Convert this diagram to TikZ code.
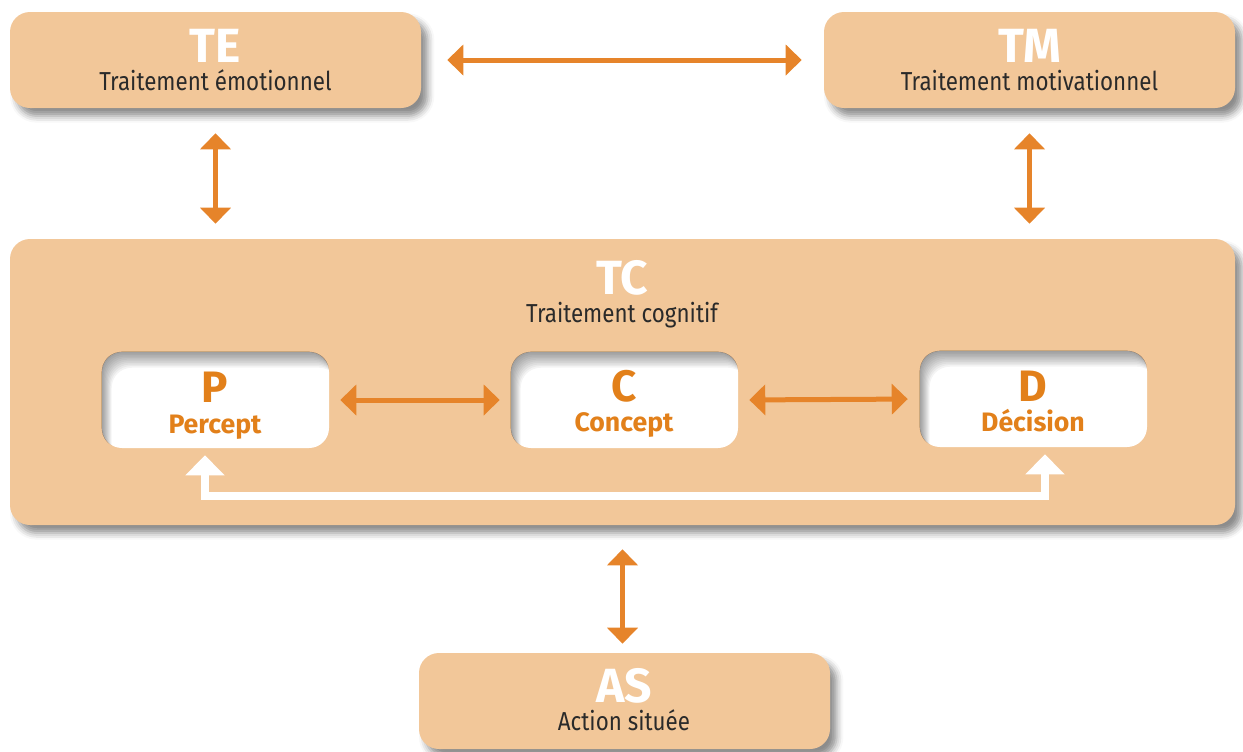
\documentclass[tikz,border=0pt]{standalone}
\usepackage{fontspec}
\setmainfont{Fira Sans}
\newfontfamily\condfont[FakeStretch=0.86]{Fira Sans}
\usetikzlibrary{arrows.meta,shadows.blur}

\definecolor{boxfill}{HTML}{F2C799}
\definecolor{arroworange}{HTML}{E6842A}
\definecolor{labelorange}{HTML}{E2801A}
\definecolor{subtext}{HTML}{2A2A2A}

\tikzset{
  outerbox/.style={fill=boxfill, draw=none, rounded corners=15pt, inner sep=0pt,
    minimum width=308.25pt, minimum height=72pt,
    blur shadow={shadow xshift=5pt, shadow yshift=-6pt, shadow blur radius=5pt, shadow opacity=45}},
  bigbox/.style={outerbox, minimum width=918.75pt, minimum height=214.5pt},
  innerbox/.style={fill=white, draw=none, rounded corners=15pt, inner sep=0pt,
    minimum width=170.25pt, minimum height=72pt},
  biarrow/.style={draw=arroworange, line width=3.75pt,
    {Triangle[width=22.5pt,length=12pt]}-{Triangle[width=22.5pt,length=12pt]}},
  loopar/.style={draw=white, line width=6pt,
    {Triangle[width=28.5pt,length=15pt]}-{Triangle[width=28.5pt,length=15pt]}},
  title/.style={anchor=base, inner sep=0pt, text=white, font=\fontsize{36}{40}\selectfont\bfseries},
  subtitle/.style={anchor=base, inner sep=0pt, text=subtext, font=\condfont\fontsize{19.5}{22}\selectfont},
  ititle/.style={anchor=base, inner sep=0pt, text=labelorange, font=\fontsize{33}{36}\selectfont\bfseries},
  isubtitle/.style={anchor=base, inner sep=0pt, text=labelorange, font=\fontsize{20}{22}\selectfont\bfseries},
}

% soft shadow along the top and left inner edges of a white box
\newcommand{\insetshadow}[1]{%
  \begin{scope}
    \clip[rounded corners=15pt] (#1.south west) rectangle (#1.north east);
    \foreach \i in {1,...,10}
      \fill[black, opacity=0.045, even odd rule]
        ([shift={(-30,-30)}]#1.north west) rectangle ([shift={(30,30)}]#1.south east)
        [rounded corners=15pt]
        ([shift={(\i*1.0,\i*1.6)}]#1.south west) rectangle ([shift={(\i*1.0,\i*1.6)}]#1.north east);
  \end{scope}}

\begin{document}
\begin{tikzpicture}[x=0.75pt, y=-0.75pt]
  \useasboundingbox (0,0) rectangle (1243,751);

  % processing boxes
  \node[outerbox] (TE) at (215.5,60) {};
  \node[outerbox] (TM) at (1029.5,60) {};
  \node[bigbox]   (TC) at (622.5,382) {};
  \node[outerbox] (AS) at (624.5,701) {};

  % stages inside cognitive processing
  \node[innerbox] (P) at (215.5,400) {};
  \node[innerbox] (C) at (624.5,400) {};
  \node[innerbox] (D) at (1033.5,399) {};
  \insetshadow{P}
  \insetshadow{C}
  \insetshadow{D}

  % labels
  \node[title]    (teT) at (215.5,62) {TE};
  \node[subtitle] (teS) at (215.5,90) {Traitement émotionnel};
  \node[title]    (tmT) at (1029.5,62) {TM};
  \node[subtitle] (tmS) at (1029.5,90) {Traitement motivationnel};
  \node[title]    (tcT) at (622,294) {TC};
  \node[subtitle] (tcS) at (622,322) {Traitement cognitif};
  \node[title]    (asT) at (624,702) {AS};
  \node[subtitle] (asS) at (624,730) {Action située};
  \node[ititle]    (pT) at (215,402) {P};
  \node[isubtitle] (pS) at (215,433) {Percept};
  \node[ititle]    (cT) at (624,401) {C};
  \node[isubtitle] (cS) at (624,431) {Concept};
  \node[ititle]    (dT) at (1033,401) {D};
  \node[isubtitle] (dS) at (1033,431) {Décision};

  % exchanges between the processes
  \draw[biarrow, shorten <=19.5pt, shorten >=16.5pt] (TE.east) -- (TM.west);
  \draw[biarrow, shorten <=18.75pt, shorten >=11.25pt] (TE.south) -- (TE.south |- TC.north);
  \draw[biarrow, shorten <=18.75pt, shorten >=11.25pt] (TM.south) -- (TM.south |- TC.north);
  \draw[biarrow, shorten <=18pt, shorten >=6.75pt] (TC.south) -- (TC.south |- AS.north);
  \draw[biarrow, shorten <=8.25pt, shorten >=8.25pt] (P.east) -- (C.west);
  \draw[biarrow, shorten <=8.25pt, shorten >=9pt] (C.east) -- (D.west);

  % feedback loop from decision back to percept
  \coordinate (loop) at (622,496);
  \draw[loopar, shorten <=5.25pt, shorten >=5.25pt]
    ([xshift=-7.9pt]P.south) -- ([xshift=-7.9pt]P.south |- loop)
    -- ([xshift=8.6pt]D.south |- loop) -- ([xshift=8.6pt]D.south);
\end{tikzpicture}
\end{document}
